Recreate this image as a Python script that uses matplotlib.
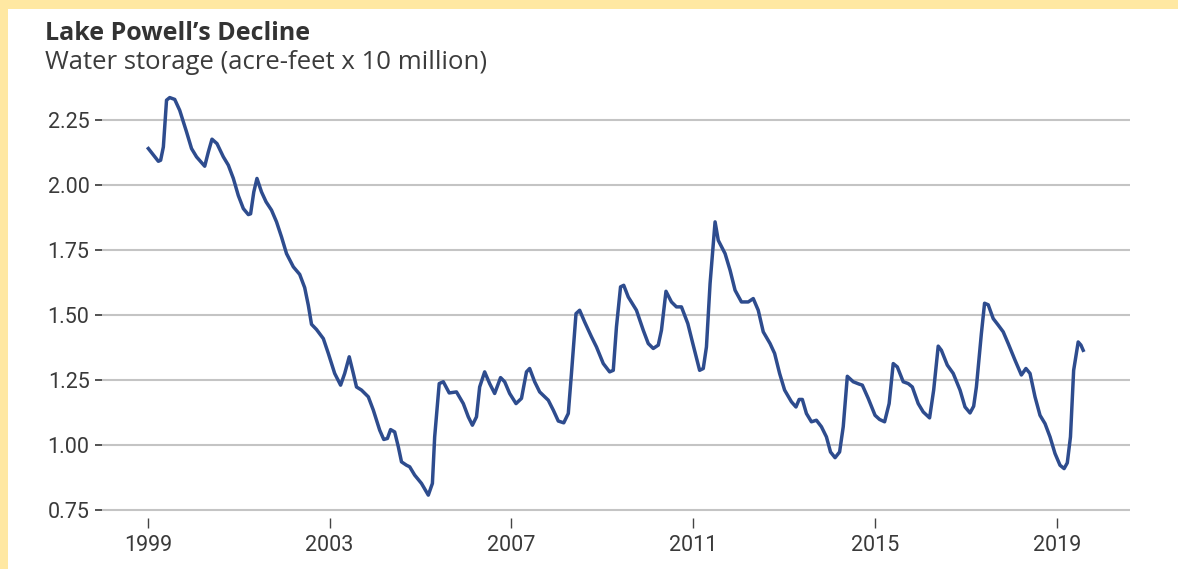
import matplotlib
matplotlib.use("Agg")
import matplotlib.pyplot as plt
from matplotlib.patches import Rectangle

# ---- data ----
years = [
    1999.01, 1999.23, 1999.28, 1999.34, 1999.41, 1999.48, 1999.59, 1999.70, 1999.85, 1999.96,
    2000.07, 2000.25, 2000.33, 2000.41, 2000.52, 2000.66, 2000.77, 2000.88, 2000.99,
    2001.10, 2001.21, 2001.26, 2001.33, 2001.40, 2001.50, 2001.60, 2001.72, 2001.83, 2001.94,
    2002.05, 2002.20, 2002.34, 2002.45, 2002.53, 2002.60, 2002.71, 2002.86, 2002.97,
    2003.11, 2003.24, 2003.33, 2003.43, 2003.52, 2003.59, 2003.70, 2003.85, 2003.96,
    2004.10, 2004.19, 2004.27, 2004.34, 2004.43, 2004.51, 2004.58, 2004.69, 2004.76, 2004.87,
    2005.02, 2005.17, 2005.26, 2005.31, 2005.41, 2005.50, 2005.63, 2005.79, 2005.94,
    2006.05, 2006.14, 2006.23, 2006.30, 2006.41, 2006.52, 2006.63, 2006.76, 2006.85, 2006.96,
    2007.10, 2007.22, 2007.33, 2007.40, 2007.51, 2007.62, 2007.81, 2007.92,
    2008.03, 2008.15, 2008.25, 2008.32, 2008.42, 2008.50, 2008.61, 2008.76, 2008.87,
    2009.02, 2009.16, 2009.24, 2009.31, 2009.40, 2009.47, 2009.57, 2009.75, 2009.90,
    2010.01, 2010.12, 2010.23, 2010.30, 2010.40, 2010.52, 2010.63, 2010.74, 2010.88, 2010.99,
    2011.14, 2011.22, 2011.29, 2011.37, 2011.48, 2011.55, 2011.70, 2011.81, 2011.92,
    2012.06, 2012.21, 2012.32, 2012.43, 2012.54, 2012.69, 2012.79, 2012.90,
    2013.01, 2013.16, 2013.26, 2013.33, 2013.40, 2013.49, 2013.60, 2013.71, 2013.82, 2013.93,
    2014.02, 2014.12, 2014.22, 2014.30, 2014.39, 2014.52, 2014.65, 2014.72, 2014.85,
    2015.00, 2015.10, 2015.21, 2015.31, 2015.40, 2015.49, 2015.62, 2015.73, 2015.82, 2015.95,
    2016.06, 2016.20, 2016.29, 2016.39, 2016.46, 2016.59, 2016.72, 2016.87, 2016.98,
    2017.09, 2017.17, 2017.23, 2017.34, 2017.41, 2017.49, 2017.60, 2017.71, 2017.82, 2017.93,
    2018.08, 2018.22, 2018.32, 2018.41, 2018.52, 2018.63, 2018.74, 2018.85, 2018.96,
    2019.07, 2019.16, 2019.23, 2019.30, 2019.37, 2019.47, 2019.53, 2019.58,
]
storage = [
    2.141, 2.092, 2.096, 2.147, 2.327, 2.337, 2.330, 2.288, 2.205, 2.141,
    2.109, 2.073, 2.128, 2.177, 2.160, 2.109, 2.077, 2.026, 1.960,
    1.910, 1.887, 1.890, 1.974, 2.026, 1.974, 1.936, 1.904, 1.859, 1.801,
    1.737, 1.686, 1.657, 1.606, 1.538, 1.465, 1.445, 1.410, 1.353,
    1.276, 1.231, 1.276, 1.340, 1.276, 1.224, 1.212, 1.186, 1.135,
    1.058, 1.022, 1.026, 1.060, 1.051, 0.994, 0.936, 0.923, 0.917, 0.885,
    0.853, 0.808, 0.853, 1.032, 1.237, 1.244, 1.201, 1.205, 1.160,
    1.109, 1.077, 1.109, 1.224, 1.282, 1.237, 1.199, 1.260, 1.244, 1.199,
    1.160, 1.180, 1.282, 1.295, 1.244, 1.205, 1.173, 1.135,
    1.093, 1.086, 1.122, 1.276, 1.506, 1.519, 1.474, 1.417, 1.378,
    1.314, 1.282, 1.288, 1.455, 1.609, 1.615, 1.570, 1.519, 1.442,
    1.391, 1.372, 1.385, 1.442, 1.592, 1.551, 1.532, 1.532, 1.468, 1.391,
    1.288, 1.295, 1.378, 1.622, 1.859, 1.788, 1.737, 1.673, 1.596,
    1.551, 1.551, 1.564, 1.519, 1.436, 1.391, 1.353, 1.276,
    1.212, 1.167, 1.147, 1.176, 1.176, 1.122, 1.090, 1.096, 1.071, 1.032,
    0.974, 0.952, 0.974, 1.071, 1.265, 1.244, 1.235, 1.231, 1.180,
    1.115, 1.099, 1.090, 1.160, 1.314, 1.301, 1.244, 1.237, 1.224, 1.160,
    1.128, 1.105, 1.212, 1.381, 1.365, 1.308, 1.276, 1.212, 1.147,
    1.124, 1.150, 1.224, 1.430, 1.546, 1.540, 1.487, 1.462, 1.436, 1.391,
    1.327, 1.270, 1.295, 1.276, 1.186, 1.115, 1.083, 1.032, 0.968,
    0.923, 0.910, 0.932, 1.032, 1.288, 1.397, 1.385, 1.365,
]
x_ticks = [1999, 2003, 2007, 2011, 2015, 2019]
x_tick_labels = ["1999", "2003", "2007", "2011", "2015", "2019"]
y_ticks = [0.75, 1.00, 1.25, 1.50, 1.75, 2.00, 2.25]
y_tick_labels = ["0.75", "1.00", "1.25", "1.50", "1.75", "2.00", "2.25"]

title = "Lake Powell\u2019s Decline"
subtitle = "Water storage (acre-feet x 10 million)"

# ---- figure ----
W, H = 1178, 569
fig = plt.figure(figsize=(W / 100, H / 100), dpi=100)
fig.patch.set_facecolor("#FFE8A2")
fig.patches.append(Rectangle((8 / W, 0), 1 - 8 / W, 1 - 9 / H, transform=fig.transFigure,
                             facecolor="white", edgecolor="none", zorder=-5))

ax = fig.add_axes([102 / W, 1 - 518 / H, (1130 - 102) / W, (518 - 89) / H])
ax.set_zorder(2)
ax.set_facecolor("none")
ax.set_xlim(1997.99, 2020.61)
ax.set_ylim(0.72, 2.37)

for s in ax.spines.values():
    s.set_visible(False)

for yv in y_ticks:
    ax.axhline(yv, color="#c4c4c4", lw=1.5, zorder=1)

ax.plot(years, storage, color="#2E4C8E", lw=2.5, zorder=3, solid_joinstyle="round")

tick_family = ["Roboto", "DejaVu Sans"]
ax.set_yticks(y_ticks)
ax.set_yticklabels(y_tick_labels, fontsize=15.5, color="#3a3a3a", family=tick_family)
ax.set_xticks(x_ticks)
ax.set_xticklabels(x_tick_labels, fontsize=15.5, color="#3a3a3a", family=tick_family)
ax.tick_params(axis="y", length=5, width=1.3, color="#444444", pad=4)
ax.tick_params(axis="x", length=7, width=1.0, color="#444444", pad=5)

fig.text(45 / W, 1 - 40 / H, title, fontsize=18, fontweight="bold", color="#333333",
         family=["Open Sans", "DejaVu Sans"], ha="left", va="baseline", zorder=3)
fig.text(45 / W, 1 - 69 / H, subtitle, fontsize=18.5, color="#3c3c3c",
         family=["Open Sans", "DejaVu Sans"], ha="left", va="baseline", zorder=3)

fig.savefig("out.png", dpi=100, facecolor=fig.get_facecolor())
